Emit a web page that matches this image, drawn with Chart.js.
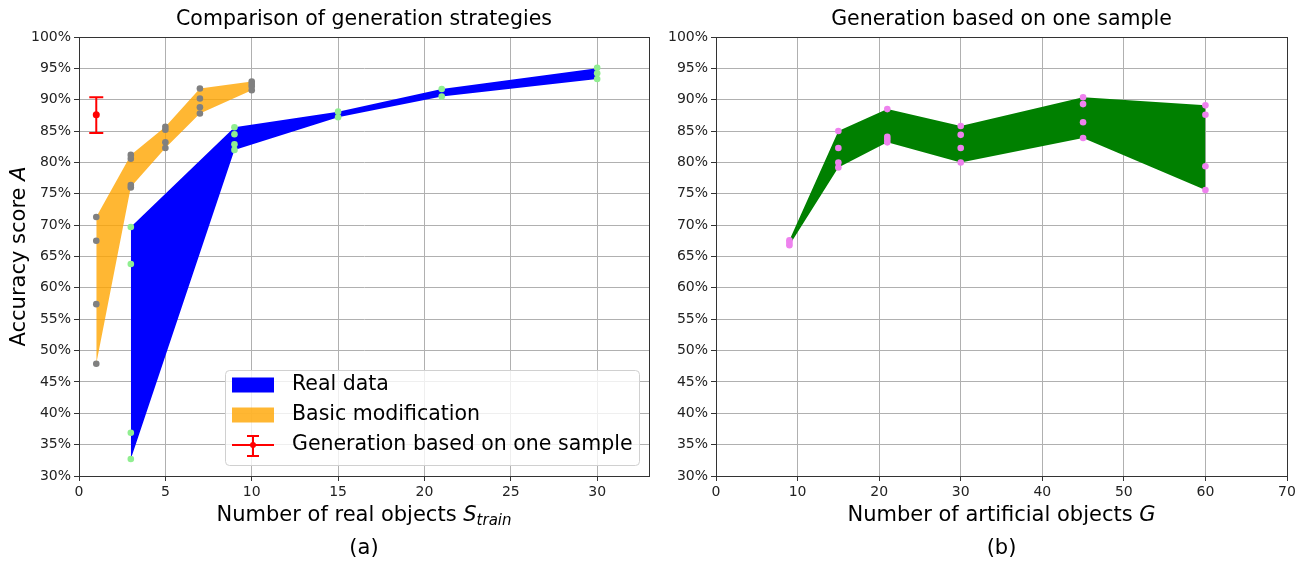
<!DOCTYPE html>
<html>
<head>
<meta charset="utf-8">
<script src="https://cdn.jsdelivr.net/npm/chart.js@4.4.1/dist/chart.umd.min.js"></script>
<style>
  body { margin: 0; background: #fff; }
  #left { position: absolute; left: 0; top: 0; }
  #right { position: absolute; left: 654px; top: 0; }
</style>
</head>
<body>
<canvas id="left" width="654" height="563"></canvas>
<canvas id="right" width="655" height="563"></canvas>
<script>
const FONT = "'DejaVu Sans', sans-serif";

// (a) real data
const realX = [3, 9, 15, 21, 30];
const realHi = [69.7, 85.6, 88.1, 91.7, 95.0];
const realLo = [32.7, 82.0, 87.2, 90.5, 93.3];
const realPts = [[69.7, 63.8, 36.9, 32.7], [85.6, 84.5, 82.9, 82.0], [88.1, 87.2], [91.7, 90.5], [95.1, 94.2, 93.3]];

// (a) basic modification
const basicX = [1, 3, 5, 7, 10];
const basicHi = [71.3, 81.2, 85.7, 91.8, 92.9];
const basicLo = [47.9, 76.1, 82.3, 87.8, 91.5];
const basicPts = [[71.3, 67.5, 57.4, 47.9], [81.2, 80.6, 76.4, 76.0], [85.7, 85.2, 83.2, 82.3], [91.8, 90.2, 88.8, 87.8], [92.9, 92.5, 92.1, 91.5]];

// (a) generation based on one sample
const oneX = 1, oneMean = 87.6, oneLo = 84.7, oneHi = 90.4;

// (b) generation based on one sample
const genX = [9, 15, 21, 30, 45, 60];
const genHi = [67.6, 85.0, 88.5, 85.8, 90.4, 89.1];
const genLo = [66.8, 79.2, 83.2, 80.0, 83.9, 75.6];
const genPts = [[67.6, 67.2, 66.8], [85.0, 82.3, 80.0, 79.2], [88.5, 84.1, 83.7, 83.2], [85.8, 84.4, 82.3, 80.0], [90.4, 89.3, 86.4, 83.9], [89.1, 87.6, 79.4, 75.6]];

// ticks
const yTicks = [30, 35, 40, 45, 50, 55, 60, 65, 70, 75, 80, 85, 90, 95, 100];
const leftXTicks = [0, 5, 10, 15, 20, 25, 30];
const rightXTicks = [0, 10, 20, 30, 40, 50, 60, 70];

const line = (xs, ys) => xs.map((x, i) => ({ x: x, y: ys[i] }));
const pts = (xs, groups) => xs.flatMap((x, i) => groups[i].map(y => ({ x: x, y: y })));

function band(xs, hi, lo, color) {
  return [
    { data: line(xs, hi), borderWidth: 0, pointRadius: 0, fill: '+1', backgroundColor: color, tension: 0, order: 2 },
    { data: line(xs, lo), borderWidth: 0, pointRadius: 0, fill: false, tension: 0, order: 2 }
  ];
}
function dots(xs, groups, color) {
  return { data: pts(xs, groups), showLine: false, pointRadius: 3.3, pointBorderWidth: 0, pointBackgroundColor: color, order: 0 };
}

function axes(xmax, xTicks, yWidth) {
  const grid = { color: '#b0b0b0', tickColor: '#333', tickLength: 5, lineWidth: 1 };
  const ticks = { font: { family: FONT, size: 14 }, color: '#222', padding: 3, maxRotation: 0 };
  return {
    x: {
      type: 'linear', min: 0, max: xmax, grid: grid, ticks: ticks, border: { color: '#333' },
      afterBuildTicks: s => { s.ticks = xTicks.map(v => ({ value: v })); },
      afterFit: s => { s.height = 87; }
    },
    y: {
      min: 30, max: 100, grid: grid, border: { color: '#333' },
      ticks: Object.assign({}, ticks, { callback: v => v + '%' }),
      afterBuildTicks: s => { s.ticks = yTicks.map(v => ({ value: v })); },
      afterFit: s => { s.width = yWidth; }
    }
  };
}

function drawParts(ctx, parts, cx, cy) {
  let w = 0;
  parts.forEach(p => {
    ctx.font = (p.italic ? 'italic ' : '') + (p.sub ? 15 : 21) + 'px ' + FONT;
    p.w = ctx.measureText(p.t).width;
    w += p.w;
  });
  let x = cx - w / 2;
  ctx.textAlign = 'left';
  ctx.textBaseline = 'middle';
  parts.forEach(p => {
    ctx.font = (p.italic ? 'italic ' : '') + (p.sub ? 15 : 21) + 'px ' + FONT;
    ctx.fillText(p.t, x, cy + (p.sub ? 5 : 0));
    x += p.w;
  });
}

const decor = {
  id: 'decor',
  afterDatasetsDraw(chart, args, o) {
    if (!o.errorbar) return;
    const { ctx, scales: { x, y } } = chart;
    const px = x.getPixelForValue(o.errorbar.x);
    const ym = y.getPixelForValue(o.errorbar.mean);
    const yl = y.getPixelForValue(o.errorbar.lo);
    const yh = y.getPixelForValue(o.errorbar.hi);
    ctx.save();
    ctx.strokeStyle = '#ff0000';
    ctx.fillStyle = '#ff0000';
    ctx.lineWidth = 2;
    ctx.beginPath();
    ctx.moveTo(px, yl); ctx.lineTo(px, yh);
    ctx.moveTo(px - 7, yl); ctx.lineTo(px + 7, yl);
    ctx.moveTo(px - 7, yh); ctx.lineTo(px + 7, yh);
    ctx.stroke();
    ctx.beginPath();
    ctx.arc(px, ym, 3.5, 0, Math.PI * 2);
    ctx.fill();
    ctx.restore();
  },
  afterDraw(chart, args, o) {
    const { ctx, chartArea: a } = chart;
    ctx.save();
    // frame
    ctx.strokeStyle = '#333';
    ctx.lineWidth = 1;
    ctx.strokeRect(Math.round(a.left) + 0.5, Math.round(a.top) + 0.5, Math.round(a.right - a.left), Math.round(a.bottom - a.top));
    ctx.fillStyle = '#000';
    const cx = (a.left + a.right) / 2;
    // title
    ctx.font = '20.5px ' + FONT;
    ctx.textAlign = 'center';
    ctx.textBaseline = 'middle';
    ctx.fillText(o.title, cx, 20);
    drawParts(ctx, o.xTitle, cx, 516);
    ctx.font = '21px ' + FONT;
    ctx.textAlign = 'center';
    ctx.fillText(o.panel, cx, 549);
    if (o.yTitle) {
      ctx.save();
      ctx.translate(20, (a.top + a.bottom) / 2);
      ctx.rotate(-Math.PI / 2);
      drawParts(ctx, o.yTitle, 0, 0);
      ctx.restore();
    }
    if (o.legend) {
      const L = o.legend;
      ctx.fillStyle = 'rgba(255,255,255,0.8)';
      ctx.strokeStyle = '#d0d0d0';
      ctx.beginPath();
      ctx.roundRect(225.5, 370.5, 414, 95, 4);
      ctx.fill();
      ctx.stroke();
      ctx.font = '20.5px ' + FONT;
      ctx.textAlign = 'left';
      ctx.textBaseline = 'middle';
      L.forEach((item, i) => {
        const yc = 385 + i * 30;
        if (item.kind === 'patch') {
          ctx.fillStyle = item.color;
          ctx.fillRect(232, yc - 7.5, 42, 15);
        } else {
          ctx.strokeStyle = item.color;
          ctx.fillStyle = item.color;
          ctx.lineWidth = 2;
          ctx.beginPath();
          ctx.moveTo(232, yc); ctx.lineTo(274, yc);
          ctx.moveTo(253, yc - 9); ctx.lineTo(253, yc + 11);
          ctx.moveTo(247, yc - 9); ctx.lineTo(259, yc - 9);
          ctx.moveTo(247, yc + 11); ctx.lineTo(259, yc + 11);
          ctx.stroke();
          ctx.beginPath();
          ctx.arc(253, yc, 3, 0, Math.PI * 2);
          ctx.fill();
        }
        ctx.fillStyle = '#000';
        ctx.fillText(item.text, 292, yc);
      });
    }
    ctx.restore();
  }
};

const common = {
  responsive: false,
  animation: false,
  events: [],
  plugins: { legend: { display: false }, tooltip: { enabled: false } }
};

new Chart(document.getElementById('left'), {
  type: 'line',
  data: {
    datasets: [
      ...band(realX, realHi, realLo, '#0000ff'),
      ...band(basicX, basicHi, basicLo, 'rgba(255,165,0,0.8)'),
      dots(realX, realPts, '#90ee90'),
      dots(basicX, basicPts, '#808080')
    ]
  },
  options: Object.assign({}, common, {
    layout: { padding: { top: 37, right: 5, left: 0, bottom: 0 } },
    scales: axes(33, leftXTicks, 79),
    plugins: Object.assign({}, common.plugins, {
      decor: {
        title: 'Comparison of generation strategies',
        xTitle: [{ t: 'Number of real objects ' }, { t: 'S', italic: true }, { t: 'train', italic: true, sub: true }],
        yTitle: [{ t: 'Accuracy score ' }, { t: 'A', italic: true }],
        panel: '(a)',
        errorbar: { x: oneX, mean: oneMean, lo: oneLo, hi: oneHi },
        legend: [
          { kind: 'patch', color: '#0000ff', text: 'Real data' },
          { kind: 'patch', color: 'rgba(255,165,0,0.8)', text: 'Basic modification' },
          { kind: 'err', color: '#ff0000', text: 'Generation based on one sample' }
        ]
      }
    })
  }),
  plugins: [decor]
});

new Chart(document.getElementById('right'), {
  type: 'line',
  data: {
    datasets: [
      ...band(genX, genHi, genLo, '#008000'),
      dots(genX, genPts, '#ee82ee')
    ]
  },
  options: Object.assign({}, common, {
    layout: { padding: { top: 37, right: 22, left: 0, bottom: 0 } },
    scales: axes(70, rightXTicks, 62),
    plugins: Object.assign({}, common.plugins, {
      decor: {
        title: 'Generation based on one sample',
        xTitle: [{ t: 'Number of artificial objects ' }, { t: 'G', italic: true }],
        panel: '(b)'
      }
    })
  }),
  plugins: [decor]
});
</script>
</body>
</html>
